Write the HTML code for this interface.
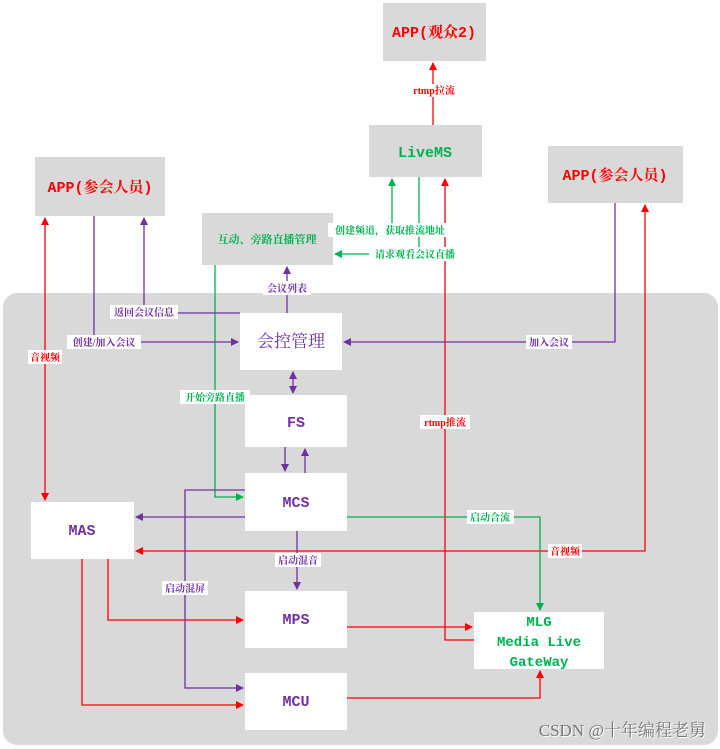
<!DOCTYPE html>
<html><head><meta charset="utf-8"><style>
html,body{margin:0;padding:0;background:#fff;}
svg{display:block;}
text{font-family:"Liberation Serif","Noto Serif CJK SC","Noto Sans CJK SC",serif;}
.lb{font-size:10px;font-weight:bold;}
.m{font-family:"Liberation Mono","Noto Serif CJK SC",monospace;font-weight:bold;}
</style></head><body>
<svg width="720" height="749" viewBox="0 0 720 749" xmlns="http://www.w3.org/2000/svg">
<defs>
<marker id="ar" markerWidth="8" markerHeight="8" refX="7" refY="4" orient="auto" markerUnits="userSpaceOnUse"><path d="M0,0 L8,4 L0,8 z" fill="#f00"/></marker>
<marker id="ap" markerWidth="8" markerHeight="8" refX="7" refY="4" orient="auto" markerUnits="userSpaceOnUse"><path d="M0,0 L8,4 L0,8 z" fill="#7030a0"/></marker>
<marker id="ag" markerWidth="8" markerHeight="8" refX="7" refY="4" orient="auto" markerUnits="userSpaceOnUse"><path d="M0,0 L8,4 L0,8 z" fill="#00b050"/></marker>
<marker id="arS" markerWidth="8" markerHeight="8" refX="1" refY="4" orient="auto" markerUnits="userSpaceOnUse"><path d="M8,0 L0,4 L8,8 z" fill="#f00"/></marker>
<marker id="apS" markerWidth="8" markerHeight="8" refX="1" refY="4" orient="auto" markerUnits="userSpaceOnUse"><path d="M8,0 L0,4 L8,8 z" fill="#7030a0"/></marker>
</defs>
<rect x="3" y="293" width="715" height="452" rx="14" fill="#d9d9d9"/>

<rect x="383" y="3" width="103" height="58" fill="#d9d9d9"/>
<text x="434" y="37" text-anchor="middle" fill="#f00" font-size="15" class="m">APP(观众2)</text>
<rect x="369" y="125" width="113" height="52" fill="#d9d9d9"/>
<text x="425" y="157" text-anchor="middle" fill="#00b050" font-size="15" class="m">LiveMS</text>
<rect x="35" y="157" width="130" height="59" fill="#d9d9d9"/>
<text x="100" y="192" text-anchor="middle" fill="#f00" font-size="15" class="m">APP(参会人员)</text>
<rect x="548" y="146" width="135" height="57" fill="#d9d9d9"/>
<text x="615" y="180" text-anchor="middle" fill="#f00" font-size="15" class="m">APP(参会人员)</text>
<rect x="202" y="213" width="131" height="52" fill="#d9d9d9"/>
<text x="267" y="243" text-anchor="middle" fill="#00b050" font-size="11" font-weight="bold">互动、旁路直播管理</text>

<rect x="240" y="313" width="102" height="57" fill="#fff"/>
<text x="291" y="347" text-anchor="middle" fill="#7030a0" font-size="17">会控管理</text>
<rect x="245" y="395" width="102" height="52" fill="#fff"/>
<text x="296" y="427" text-anchor="middle" fill="#7030a0" font-size="15" class="m">FS</text>
<rect x="245" y="473" width="102" height="58" fill="#fff"/>
<text x="296" y="507" text-anchor="middle" fill="#7030a0" font-size="15" class="m">MCS</text>
<rect x="31" y="502" width="103" height="57" fill="#fff"/>
<text x="82" y="535" text-anchor="middle" fill="#7030a0" font-size="15" class="m">MAS</text>
<rect x="245" y="591" width="102" height="57" fill="#fff"/>
<text x="296" y="624" text-anchor="middle" fill="#7030a0" font-size="15" class="m">MPS</text>
<rect x="474" y="612" width="130" height="57" fill="#fff"/>
<text x="539" y="626" text-anchor="middle" fill="#00b050" font-size="14" class="m">MLG</text>
<text x="539" y="646" text-anchor="middle" fill="#00b050" font-size="14" class="m">Media Live</text>
<text x="539" y="666" text-anchor="middle" fill="#00b050" font-size="14" class="m">GateWay</text>
<rect x="245" y="673" width="102" height="57" fill="#fff"/>
<text x="296" y="706" text-anchor="middle" fill="#7030a0" font-size="15" class="m">MCU</text>

<g fill="none" stroke-width="1.3">
<line x1="433" y1="125" x2="433" y2="63" stroke="#f00" marker-end="url(#ar)"/>
<polyline points="474,640 445,640 445,179" stroke="#f00" marker-end="url(#ar)"/>
<line x1="45" y1="218" x2="45" y2="500" stroke="#f00" marker-start="url(#arS)" marker-end="url(#ar)"/>
<polyline points="645,205 645,551 136,551" stroke="#f00" marker-start="url(#arS)" marker-end="url(#ar)"/>
<polyline points="108,559 108,620 243,620" stroke="#f00" marker-end="url(#ar)"/>
<polyline points="82,559 82,705 243,705" stroke="#f00" marker-end="url(#ar)"/>
<line x1="347" y1="627" x2="472" y2="627" stroke="#f00" marker-end="url(#ar)"/>
<polyline points="347,698 540,698 540,671" stroke="#f00" marker-end="url(#ar)"/>
<line x1="392" y1="225" x2="392" y2="179" stroke="#00b050" marker-end="url(#ag)"/>
<polyline points="419,177 419,254 335,254" stroke="#00b050" marker-end="url(#ag)"/>
<polyline points="215,265 215,497 243,497" stroke="#00b050" marker-end="url(#ag)"/>
<polyline points="347,517 540,517 540,610" stroke="#00b050" marker-end="url(#ag)"/>
<polyline points="94,216 94,342 238,342" stroke="#7030a0" marker-end="url(#ap)"/>
<polyline points="240,313 144,313 144,218" stroke="#7030a0" marker-end="url(#ap)"/>
<line x1="287" y1="313" x2="287" y2="267" stroke="#7030a0" marker-end="url(#ap)"/>
<polyline points="615,203 615,342 344,342" stroke="#7030a0" marker-end="url(#ap)"/>
<line x1="293" y1="372" x2="293" y2="393" stroke="#7030a0" marker-start="url(#apS)" marker-end="url(#ap)"/>
<line x1="285" y1="447" x2="285" y2="471" stroke="#7030a0" marker-end="url(#ap)"/>
<line x1="305" y1="473" x2="305" y2="449" stroke="#7030a0" marker-end="url(#ap)"/>
<line x1="245" y1="517" x2="136" y2="517" stroke="#7030a0" marker-end="url(#ap)"/>
<polyline points="245,490 185,490 185,688 243,688" stroke="#7030a0" marker-end="url(#ap)"/>
<line x1="297" y1="531" x2="297" y2="589" stroke="#7030a0" marker-end="url(#ap)"/>
</g>

<g class="lb" text-anchor="middle">
<rect x="410" y="84" width="48" height="13" fill="#fff"/><text x="434" y="94" fill="#f00">rtmp拉流</text>
<rect x="328" y="223" width="124" height="14" fill="#fff"/><text x="390" y="234" fill="#00b050">创建频道，获取推流地址</text>
<rect x="369" y="247" width="92" height="14" fill="#fff"/><text x="415" y="258" fill="#00b050">请求观看会议直播</text>
<rect x="263" y="281" width="48" height="14" fill="#fff"/><text x="287" y="292" fill="#7030a0">会议列表</text>
<rect x="110" y="305" width="68" height="14" fill="#fff"/><text x="144" y="316" fill="#7030a0">返回会议信息</text>
<rect x="67" y="335" width="74" height="14" fill="#fff"/><text x="104" y="346" fill="#7030a0">创建/加入会议</text>
<rect x="526" y="335" width="46" height="14" fill="#fff"/><text x="549" y="346" fill="#7030a0">加入会议</text>
<rect x="28" y="350" width="34" height="14" fill="#fff"/><text x="45" y="361" fill="#f00">音视频</text>
<rect x="180" y="390" width="70" height="14" fill="#fff"/><text x="215" y="401" fill="#00b050">开始旁路直播</text>
<rect x="420" y="415" width="50" height="14" fill="#fff"/><text x="445" y="426" fill="#f00">rtmp推流</text>
<rect x="467" y="510" width="47" height="14" fill="#fff"/><text x="490" y="521" fill="#00b050">启动合流</text>
<rect x="548" y="544" width="34" height="14" fill="#fff"/><text x="565" y="555" fill="#f00">音视频</text>
<rect x="275" y="553" width="46" height="14" fill="#fff"/><text x="298" y="564" fill="#7030a0">启动混音</text>
<rect x="162" y="581" width="46" height="14" fill="#fff"/><text x="185" y="592" fill="#7030a0">启动混屏</text>
</g>
<text x="707" y="737" text-anchor="end" fill="#fff" font-size="17" font-family="Liberation Sans,Noto Sans CJK SC,sans-serif">CSDN @十年编程老舅</text>
<text x="706" y="736" text-anchor="end" fill="#777" font-size="17" font-family="Liberation Sans,Noto Sans CJK SC,sans-serif">CSDN @十年编程老舅</text>
</svg>
</body></html>
